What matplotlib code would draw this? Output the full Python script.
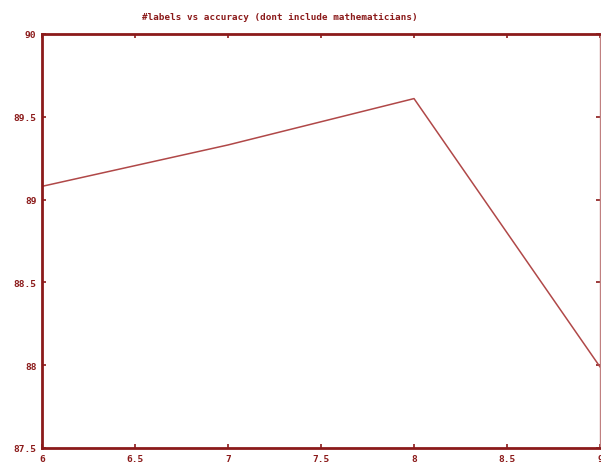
import matplotlib
matplotlib.use("Agg")
import matplotlib.pyplot as plt

# number of labels vs accuracy
n_labels = [6, 7, 8, 9]
accuracy = [89.08, 89.33, 89.61, 87.99]

x_ticks = [6, 6.5, 7, 7.5, 8, 8.5, 9]
x_tick_labels = ["6", "6.5", "7", "7.5", "8", "8.5", "9"]
y_ticks = [87.5, 88, 88.5, 89, 89.5, 90]
y_tick_labels = ["87.5", "88", "88.5", "89", "89.5", "90"]

dark_red = "#8b1a1a"

fig = plt.figure(figsize=(6.01, 4.64), dpi=100)
ax = fig.add_axes([42 / 601, 1 - 449 / 464, 558 / 601, 414 / 464])

ax.plot(n_labels, accuracy, color="#b04848", lw=1.1)

ax.set_xlim(6, 9)
ax.set_ylim(87.5, 90)
ax.set_xticks(x_ticks)
ax.set_xticklabels(x_tick_labels)
ax.set_yticks(y_ticks)
ax.set_yticklabels(y_tick_labels)

for side in ["left", "bottom", "top"]:
    ax.spines[side].set_color(dark_red)
    ax.spines[side].set_linewidth(2)
ax.spines["right"].set_color("#c08080")
ax.spines["right"].set_linewidth(1)

ax.tick_params(direction="in", length=3, width=1.2, color=dark_red,
               top=True, right=True, labelcolor=dark_red, labelsize=6.8, pad=4)
for lbl in ax.get_xticklabels() + ax.get_yticklabels():
    lbl.set_fontfamily("DejaVu Sans Mono")
    lbl.set_fontweight("bold")

fig.text(280 / 601, 1 - 18 / 464,
         "#labels vs accuracy (dont include mathematicians)",
         ha="center", va="center", color=dark_red, fontsize=6.7,
         family="DejaVu Sans Mono", fontweight="bold")

fig.savefig("out.png", dpi=100)
